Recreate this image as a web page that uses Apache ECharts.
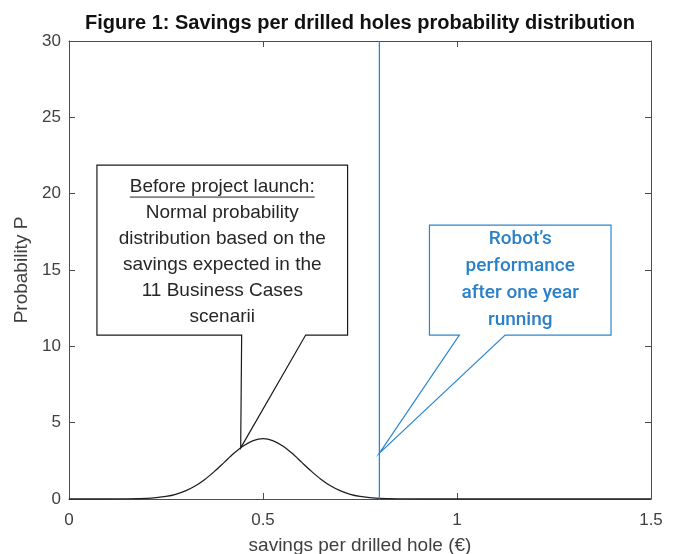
<!DOCTYPE html>
<html>
<head>
<meta charset="utf-8">
<script src="https://cdn.jsdelivr.net/npm/echarts@6/dist/echarts.min.js"></script>
<style>
  html, body { margin: 0; padding: 0; background: #fff; }
  #chart { width: 673px; height: 554px; }
</style>
</head>
<body>
<div id="chart"></div>
<script>
// savings per drilled hole (x) and probability (y)
const savings = [0, 0.1, 0.15, 0.2, 0.225, 0.25, 0.275, 0.3, 0.325, 0.35, 0.375, 0.4, 0.425, 0.45, 0.475,
  0.5, 0.525, 0.55, 0.575, 0.6, 0.625, 0.65, 0.675, 0.7, 0.725, 0.75, 0.775, 0.8, 0.85, 0.9, 1.5]
const probability = [0, 0, 0.01, 0.04, 0.09, 0.17, 0.31, 0.53, 0.85, 1.28, 1.81, 2.4, 2.99, 3.49, 3.83,
  3.95, 3.83, 3.49, 2.99, 2.4, 1.81, 1.28, 0.85, 0.53, 0.31, 0.17, 0.09, 0.04, 0.01, 0, 0]
// robot performance after one year
const robotSaving = [0.8, 0.8]
const robotLine = [0, 30]
const xTicks = [0, 0.5, 1, 1.5]
const yTicks = [0, 5, 10, 15, 20, 25, 30]

const axisColor = '#4d4d4d'
const labelColor = '#404040'
const blue = '#2b86cf'
const arial = '"Liberation Sans", Arial, sans-serif'

// callouts, in data units
const callouts = [
  {
    box: [0.072, 0.718, 21.87, 10.74], base: [0.445, 0.61], tip: [0.4425, 3.35],
    stroke: '#1a1a1a', color: '#262626', font: '19px ' + arial, lineHeight: 26, shift: 2,
    lines: ['Before project launch:', 'Normal probability', 'distribution based on the',
      'savings expected in the', '11 Business Cases', 'scenarii'],
    underline: 0
  },
  {
    box: [0.929, 1.397, 17.94, 10.74], base: [1.006, 1.124], tip: [0.8, 3.0],
    stroke: blue, color: '#2b80c8', font: '500 19px Roboto, sans-serif', lineHeight: 27, shift: 0,
    lines: ['Robot\u2019s', 'performance', 'after one year', 'running'],
    underline: -1
  }
]

const chart = echarts.init(document.getElementById('chart'))

const curve = savings.map((x, i) => [x, probability[i]])
const robot = robotSaving.map((x, i) => [x, robotLine[i]])

const tickAxis = {
  type: 'value', min: 0,
  axisLine: { show: true, onZero: false, lineStyle: { color: axisColor, width: 1 } },
  axisTick: { show: true, inside: true, length: 6, lineStyle: { color: axisColor } },
  splitLine: { show: false }
}

chart.setOption({
  animation: false,
  grid: { left: 69, right: 22, top: 41, bottom: 55, outerBoundsMode: 'none', containLabel: false },
  xAxis: [
    Object.assign({}, tickAxis, {
      max: 1.5, interval: 0.5, position: 'bottom',
      name: 'savings per drilled hole (\u20ac)', nameLocation: 'middle', nameGap: 37,
      nameTextStyle: { fontSize: 19, color: labelColor, fontFamily: arial },
      axisLabel: { fontSize: 17, color: labelColor, margin: 13, fontFamily: arial,
        formatter: v => xTicks.includes(v) ? String(v) : '' }
    }),
    Object.assign({}, tickAxis, { max: 1.5, interval: 0.5, position: 'top', axisLabel: { show: false } })
  ],
  yAxis: [
    Object.assign({}, tickAxis, {
      max: 30, interval: 5, position: 'left',
      name: 'Probability P', nameLocation: 'middle', nameGap: 38, nameRotate: 90,
      nameTextStyle: { fontSize: 19, color: labelColor, fontFamily: arial },
      axisLabel: { fontSize: 17, color: labelColor, margin: 8, fontFamily: arial,
        formatter: v => yTicks.includes(v) ? String(v) : '' }
    }),
    Object.assign({}, tickAxis, { max: 30, interval: 5, position: 'right', axisLabel: { show: false } })
  ],
  series: [
    {
      type: 'line', data: curve, symbol: 'none', smooth: 0.3,
      lineStyle: { color: '#1f1f1f', width: 1.3 }, z: 3
    },
    {
      type: 'line', data: robot, symbol: 'none',
      lineStyle: { color: blue, width: 1.3 }, z: 3
    }
  ]
})

// measure text for underline
const ctx = document.createElement('canvas').getContext('2d')

function px(x, y) {
  return chart.convertToPixel({ xAxisIndex: 0, yAxisIndex: 0 }, [x, y])
}

const graphics = [{
  type: 'text', x: 360, y: 23,
  style: {
    text: 'Figure 1: Savings per drilled holes probability distribution',
    align: 'center', verticalAlign: 'middle',
    font: 'bold 20px ' + arial, fill: '#111'
  }
}]

callouts.forEach(c => {
  const tl = px(c.box[0], c.box[2])
  const br = px(c.box[1], c.box[3])
  const b1 = px(c.base[0], c.box[3])
  const b2 = px(c.base[1], c.box[3])
  const tip = px(c.tip[0], c.tip[1])
  graphics.push({
    type: 'polygon', z: 10,
    shape: { points: [[tl[0], tl[1]], [br[0], tl[1]], [br[0], br[1]], [b2[0], br[1]], tip, [b1[0], br[1]], [tl[0], br[1]]] },
    style: { fill: '#fff', stroke: c.stroke, lineWidth: 1.2 }
  })
  const cx = (tl[0] + br[0]) / 2
  const top = (tl[1] + br[1]) / 2 - c.lines.length * c.lineHeight / 2 + c.shift
  c.lines.forEach((line, i) => {
    const cy = top + c.lineHeight * (i + 0.5)
    graphics.push({
      type: 'text', z: 11, x: cx, y: cy,
      style: { text: line, align: 'center', verticalAlign: 'middle', font: c.font, fill: c.color }
    })
    if (i === c.underline) {
      ctx.font = c.font
      const w = ctx.measureText(line).width
      graphics.push({
        type: 'line', z: 11,
        shape: { x1: cx - w / 2, y1: cy + 10, x2: cx + w / 2, y2: cy + 10 },
        style: { stroke: c.color, lineWidth: 1 }
      })
    }
  })
})

chart.setOption({ graphic: graphics })
</script>
</body>
</html>
